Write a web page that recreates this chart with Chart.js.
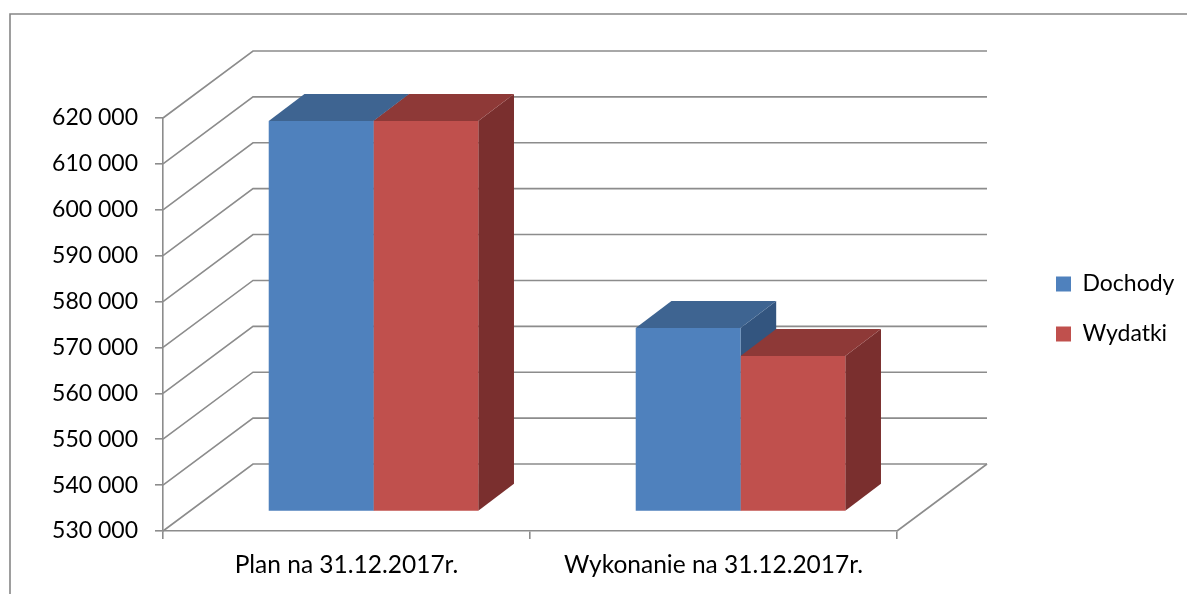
<!DOCTYPE html>
<html>
<head>
<meta charset="utf-8">
<style>
html, body { margin: 0; padding: 0; background: #fff; }
canvas { display: block; }
</style>
<script src="https://cdn.jsdelivr.net/npm/chart.js@4"></script>
</head>
<body>
<canvas id="wykres" width="1187" height="594"></canvas>
<script>
const kategorie = ['Plan na 31.12.2017r.', 'Wykonanie na 31.12.2017r.'];
const dochody = [615100, 570000];
const wydatki = [615100, 563900];
const etykietyY = ['530 000', '540 000', '550 000', '560 000', '570 000', '580 000', '590 000', '600 000', '610 000', '620 000'];

const kolorLinii = '#8c8c8c';
const kolory = {
    Dochody: { przod: '#4F81BD', gora: '#3E6491', bok: '#33557F' },
    Wydatki: { przod: '#C0504D', gora: '#8E3937', bok: '#7A2F2E' }
};

// perspective offsets of the 3D box
const sciana = { dx: 90, dy: -67 };
const podloga = { dx: 27, dy: -19.4 };
const glebokosc = { dx: 35.7, dy: -27 };

function wielokat(ctx, punkty, kolor) {
    ctx.beginPath();
    punkty.forEach((p, i) => i ? ctx.lineTo(p[0], p[1]) : ctx.moveTo(p[0], p[1]));
    ctx.closePath();
    ctx.fillStyle = kolor;
    ctx.fill();
}

const wykres3d = {
    id: 'wykres3d',
    beforeDraw(chart) {
        // outer frame, cut off by the picture on the right and at the bottom
        const ctx = chart.ctx;
        ctx.save();
        ctx.strokeStyle = '#868686';
        ctx.lineWidth = 1.6;
        ctx.beginPath();
        ctx.moveTo(10, 594);
        ctx.lineTo(10, 14);
        ctx.lineTo(1187, 14);
        ctx.stroke();
        ctx.restore();
    },
    afterLayout(chart) {
        // legend sits away from the plot, next to the middle of the walls
        const l = chart.legend;
        l.left = 1056 - l.options.labels.padding;
        l.right = 1187;
        l.top = 231;
        l.bottom = 387;
    },
    beforeDatasetsDraw(chart) {
        const ctx = chart.ctx;
        const { left, right, bottom } = chart.chartArea;
        const y = chart.scales.y;

        ctx.save();
        ctx.strokeStyle = kolorLinii;
        ctx.lineWidth = 1.6;
        y.ticks.forEach((t, i) => {
            const py = y.getPixelForTick(i);
            ctx.beginPath();
            ctx.moveTo(left, py);
            ctx.lineTo(left + sciana.dx, py + sciana.dy);
            ctx.lineTo(right + sciana.dx, py + sciana.dy);
            ctx.stroke();
        });
        // floor edges
        ctx.beginPath();
        ctx.moveTo(right + sciana.dx, bottom + sciana.dy);
        ctx.lineTo(right, bottom);
        ctx.stroke();
        ctx.restore();

        // everything up to afterDatasetsDraw is shifted back onto the floor
        ctx.save();
        ctx.translate(podloga.dx, podloga.dy);

        const d = glebokosc;
        const metas = chart.getSortedVisibleDatasetMetas().slice().sort((a, b) => a.index - b.index);
        metas.forEach(meta => {
            const k = kolory[meta.label];
            meta.data.forEach(b => {
                const x2 = b.x + b.width / 2;
                wielokat(ctx, [[x2, b.y], [x2 + d.dx, b.y + d.dy], [x2 + d.dx, b.base + d.dy], [x2, b.base]], k.bok);
            });
        });
        metas.forEach(meta => {
            const k = kolory[meta.label];
            meta.data.forEach(b => {
                const x1 = b.x - b.width / 2;
                const x2 = b.x + b.width / 2;
                wielokat(ctx, [[x1, b.y], [x1 + d.dx, b.y + d.dy], [x2 + d.dx, b.y + d.dy], [x2, b.y]], k.gora);
            });
        });
    },
    afterDatasetsDraw(chart) {
        chart.ctx.restore();
    }
};

const chart = new Chart(document.getElementById('wykres').getContext('2d'), {
    type: 'bar',
    data: {
        labels: kategorie,
        datasets: [
            { label: 'Dochody', data: dochody, base: 530000, backgroundColor: kolory.Dochody.przod, clip: false },
            { label: 'Wydatki', data: wydatki, base: 530000, backgroundColor: kolory.Wydatki.przod, clip: false }
        ]
    },
    options: {
        responsive: false,
        animation: false,
        categoryPercentage: 0.571,
        barPercentage: 1,
        layout: { padding: { left: 0, top: 118, right: 170, bottom: 9 } },
        scales: {
            x: {
                afterFit: s => { s.height = 54; },
                border: { color: kolorLinii, width: 1.6 },
                grid: { drawOnChartArea: false, color: kolorLinii, tickLength: 8, lineWidth: 1.6 },
                ticks: { color: '#000', padding: 11, font: { family: 'Lato', size: 24.5 } }
            },
            y: {
                min: 530000,
                max: 620000,
                afterFit: s => { s.width = 163; },
                border: { color: kolorLinii, width: 1.6 },
                grid: { drawOnChartArea: false, color: kolorLinii, tickLength: 8, lineWidth: 1.6 },
                ticks: {
                    stepSize: 10000,
                    color: '#000',
                    padding: 17,
                    font: { family: 'Lato', size: 23 },
                    callback: (v, i) => etykietyY[i]
                }
            }
        },
        plugins: {
            tooltip: { enabled: false },
            legend: {
                position: 'right',
                labels: {
                    boxWidth: 15,
                    boxHeight: 15,
                    padding: 27,
                    color: '#000',
                    font: { family: 'Lato', size: 23 }
                }
            }
        }
    },
    plugins: [wykres3d]
});

// the legend width depends on the text, so fit the plot's right edge afterwards
chart.options.layout.padding.right += chart.chartArea.right - 897;
chart.update();
</script>
</body>
</html>
